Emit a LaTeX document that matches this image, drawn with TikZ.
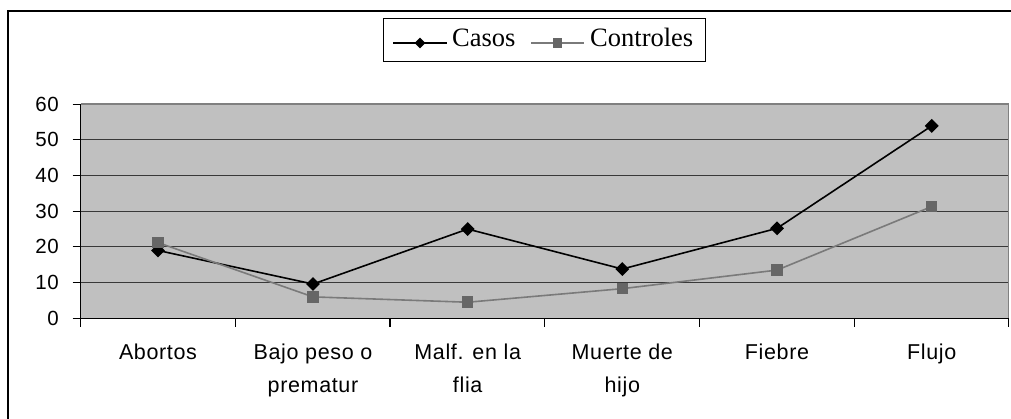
\documentclass[tikz,border=0pt]{standalone}
\usepackage{fontspec}
\setmainfont{Liberation Serif}
\newfontfamily\arialf[LetterSpace=3]{Liberation Sans}
\usetikzlibrary{shapes.geometric}
\definecolor{plotbg}{HTML}{C0C0C0}
\definecolor{ctrlline}{HTML}{7A7A7A}
\definecolor{ctrlmark}{HTML}{666666}
\definecolor{gridc}{HTML}{383838}
\definecolor{borderc}{HTML}{808080}
\begin{document}
\begin{tikzpicture}[x=1pt,y=-1pt,
  casosmk/.style={diamond, fill=black, inner sep=0pt, minimum width=14pt, minimum height=14pt},
  ctrlmk/.style={rectangle, fill=ctrlmark, inner sep=0pt, minimum size=11.5pt},
  legcasosmk/.style={diamond, fill=black, inner sep=0pt, minimum width=11pt, minimum height=11pt},
  legctrlmk/.style={rectangle, fill=ctrlmark, inner sep=0pt, minimum size=9.5pt},
  casosln/.style={black, line width=1.6pt},
  ctrlln/.style={ctrlline, line width=1.6pt},
  gridln/.style={gridc, line width=1.2pt},
  axisln/.style={black, line width=1.1pt},
  axlab/.style={font=\arialf\fontsize{20.5}{24}\selectfont, inner sep=0pt, anchor=east},
  catlab/.style={font=\arialf\fontsize{21.5}{33}\selectfont, align=center, inner sep=0pt, anchor=north},
  legtext/.style={font=\fontsize{26.5}{30}\selectfont, inner sep=0pt, anchor=base west},
]
\useasboundingbox (0,0) rectangle (1011,419);
\fill[white] (0,0) rectangle (1011,419);

% outer frame (cut off at right and bottom)
\draw[black, line width=2.2pt] (8,419) -- (8,11) -- (1011,11);

% legend
\draw[black, line width=0.8pt] (383,18) rectangle (705,61);
\coordinate (lca) at (393,43);
\coordinate (lcb) at (447,43);
\coordinate (lka) at (531,43);
\coordinate (lkb) at (584,43);
\draw[casosln, line width=1.4pt] (lca) -- (lcb);
\node[legcasosmk] (lcm) at (420,43) {};
\draw[ctrlln, line width=1.4pt] (lka) -- (lkb);
\node[legctrlmk] (lkm) at (557.5,43) {};
\node[legtext] (lct) at (452,47) {Casos};
\node[legtext] (lkt) at (590,47) {Controles};

% plot area
\fill[plotbg] (80.7,104.1) rectangle (1008.7,318.3);
\foreach \v in {10,20,30,40,50}
  \draw[gridln] (80.7,{318.3-3.57*\v}) -- (1008.7,{318.3-3.57*\v});
\draw[borderc, line width=1.5pt] (80.7,104.1) -- (1008.7,104.1) -- (1008.7,318.3);

% axes
\draw[axisln] (80.7,104.1) -- (80.7,318.3) -- (1008.7,318.3);
\foreach \v in {0,10,20,30,40,50,60}{
  \draw[axisln] (72.5,{318.3-3.57*\v}) -- (80.7,{318.3-3.57*\v});
  \node[axlab] (y\v) at (59,{318.3-3.57*\v}) {\v};
}
\foreach \i in {0,...,6}
  \draw[axisln] ({80.7+154.67*\i},318.3) -- ({80.7+154.67*\i},326.5);

% category labels
\node[catlab] (cat1) at (158.0,344) {Abortos};
\node[catlab] (cat2) at (313.0,344) {Bajo peso o\\prematur};
\node[catlab] (cat3) at (467.7,344) {Malf. en la\\flia};
\node[catlab] (cat4) at (622.3,344) {Muerte de\\hijo};
\node[catlab] (cat5) at (777.0,344) {Fiebre};
\node[catlab] (cat6) at (931.7,344) {Flujo};

% data points
\coordinate (c1) at (158.0,{318.3-3.57*19.0});
\coordinate (c2) at (313.0,{318.3-3.57*9.6});
\coordinate (c3) at (467.7,{318.3-3.57*25.0});
\coordinate (c4) at (622.3,{318.3-3.57*13.8});
\coordinate (c5) at (777.0,{318.3-3.57*25.2});
\coordinate (c6) at (931.7,{318.3-3.57*53.9});
\coordinate (k1) at (158.0,{318.3-3.57*21.2});
\coordinate (k2) at (313.0,{318.3-3.57*6.0});
\coordinate (k3) at (467.7,{318.3-3.57*4.5});
\coordinate (k4) at (622.3,{318.3-3.57*8.3});
\coordinate (k5) at (777.0,{318.3-3.57*13.5});
\coordinate (k6) at (931.7,{318.3-3.57*31.3});

% Casos series
\draw[casosln, line join=round] (c1) -- (c2) -- (c3) -- (c4) -- (c5) -- (c6);
\foreach \p in {c1,c2,c3,c4,c5,c6}
  \node[casosmk] (m\p) at (\p) {};

% Controles series
\draw[ctrlln, line join=round] (k1) -- (k2) -- (k3) -- (k4) -- (k5) -- (k6);
\foreach \p in {k1,k2,k3,k4,k5,k6}
  \node[ctrlmk] (m\p) at (\p) {};
\end{tikzpicture}
\end{document}
